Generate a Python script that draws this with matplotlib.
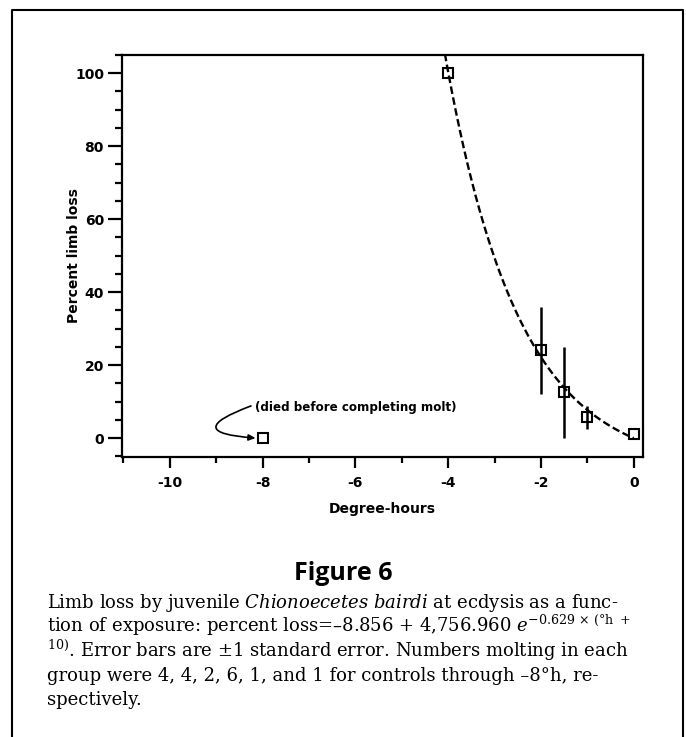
# Figure 6: limb loss of juvenile Chionoecetes bairdi vs degree-hours
import numpy as np
import matplotlib.pyplot as plt
from matplotlib.lines import Line2D
from matplotlib.ticker import MultipleLocator

plt.rcParams['mathtext.fontset'] = 'dejavuserif'
plt.rcParams['axes.unicode_minus'] = False

# data
degree_hours = [0, -1, -1.5, -2, -4, -8]
pct_loss = [1.1, 5.7, 12.5, 24, 100, 0]
std_err = [0, 3.2, 12.5, 12, 0, 0]

# fitted curve from the caption: loss = a + b*exp(c*(h + 10))
fit_a, fit_b, fit_c = -8.856, 4756.960, -0.629

W, H = 686, 737
fig = plt.figure(figsize=(W / 100, H / 100), dpi=100)


def fx(px):
    return px / W


def fy(py):
    return 1 - py / H


ax = fig.add_axes([fx(122), fy(457), fx(643) - fx(122), fy(55) - fy(457)])

# error bars, then open squares on top
ax.errorbar(degree_hours, pct_loss, yerr=std_err, fmt='none', ecolor='k',
            elinewidth=1.8, capsize=0)
ax.plot(degree_hours, pct_loss, 's', ms=7, mfc='none', mec='k', mew=1.5)

h = np.linspace(-4.3, 0, 300)
ax.plot(h, fit_a + fit_b * np.exp(fit_c * (h + 10)), color='k', lw=1.7,
        dashes=(3.2, 1.5))

ax.set_xlim(-11.03, 0.2)
ax.set_ylim(-5.2, 105)
ax.xaxis.set_major_locator(MultipleLocator(2))
ax.xaxis.set_minor_locator(MultipleLocator(1))
ax.yaxis.set_major_locator(MultipleLocator(20))
ax.yaxis.set_minor_locator(MultipleLocator(5))
ax.tick_params(axis='both', which='both', direction='out', width=1.6,
               labelsize=10)
ax.tick_params(axis='y', which='major', length=10, pad=3)
ax.tick_params(axis='y', which='minor', length=5)
ax.tick_params(axis='x', which='major', length=8, pad=6)
ax.tick_params(axis='x', which='minor', length=4)
for lab in ax.get_xticklabels() + ax.get_yticklabels():
    lab.set_fontweight('bold')
for s in ax.spines.values():
    s.set_linewidth(1.6)

ax.set_xlabel('Degree-hours', fontsize=10, fontweight='bold', labelpad=8)
ax.set_ylabel('Percent limb loss', fontsize=10, fontweight='bold')
ax.yaxis.set_label_coords(-0.079, 0.5)

ax.text(-8.17, 8.5, '(died before completing molt)', fontsize=8.6,
        fontweight='bold', va='center', ha='left')
ax.annotate('', xy=(-8.15, 0), xytext=(-8.25, 8.8),
            arrowprops=dict(arrowstyle='-|>,head_length=0.4,head_width=0.18',
                            color='k', lw=1.2,
                            connectionstyle='arc3,rad=2.3',
                            shrinkA=0, shrinkB=0))

# outer frame, open at the bottom
fig.add_artist(Line2D([fx(12), fx(12), fx(683), fx(683)],
                      [0, fy(10), fy(10), 0], transform=fig.transFigure,
                      color='k', lw=1.5))

fig.text(0.5, fy(580), 'Figure 6', ha='center', va='baseline',
         fontsize=18, fontweight='bold', family='Open Sans')

caption = [
    r'Limb loss by juvenile $\it{Chionoecetes\ bairdi}$ at ecdysis as a func-',
    r'tion of exposure: percent loss=–8.856 + 4,756.960 '
    r'$e^{-0.629\,\times\,(°\mathrm{h}\ +}$',
    r'$^{10)}$. Error bars are ±1 standard error. Numbers molting in each',
    'group were 4, 4, 2, 6, 1, and 1 for controls through –8°h, re-',
    'spectively.',
]
for i, line in enumerate(caption):
    fig.text(fx(47), fy(608 + 24.3 * i), line, ha='left', va='baseline',
             fontsize=13, family='DejaVu Serif')

fig.savefig('out.png', dpi=100)
